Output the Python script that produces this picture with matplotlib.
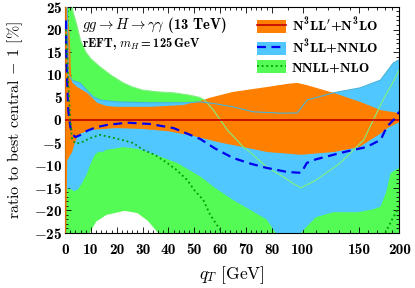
import numpy as np
import matplotlib
matplotlib.use('Agg')
import matplotlib.pyplot as plt
from matplotlib.patches import Patch
from matplotlib.lines import Line2D
from matplotlib.ticker import FixedLocator

plt.rcParams.update({
    'font.family': 'serif',
    'font.serif': ['cmb10'],
    'mathtext.fontset': 'custom',
    'mathtext.rm': 'cmb10',
    'mathtext.bf': 'cmb10',
    'mathtext.it': 'cmmi10',
    'mathtext.cal': 'cmsy10',
    'mathtext.fallback': 'cm',
    'axes.formatter.use_mathtext': True,
})

# --- band data (qT in GeV, ratio to best central - 1 in %) ---
# NNLL+NLO band
g_up_q = [0, 2.5, 3, 4.5, 6, 8, 10, 13.6, 18, 22.5, 26, 30, 36, 42, 48, 52, 54, 57.4, 62.8, 69, 72, 78, 87, 93, 98.8, 110, 131, 155, 166, 180, 190, 200]
g_up = [40, 26, 24, 21, 17.5, 15, 13.5, 11.7, 9.8, 8.2, 7.3, 6.6, 6.2, 6.0, 5.5, 5.0, 4.4, 2.2, -2.2, -6.0, -7.3, -10.4, -12.6, -14, -15, -13.3, -9.5, -4.4, 0, 5.1, 8, 11]
g_lo_q = [0, 8, 9.5, 12, 16, 23, 28, 32, 36, 40, 50, 200]
g_lo = [-40, -30, -25, -22.5, -21, -20.1, -20.6, -22.3, -25, -28, -32, -32]

# N3LL+NNLO band
b_up_q = [0, 0.8, 1.2, 2.7, 4, 5.8, 8, 10.9, 13.6, 20, 33, 45.7, 52.3, 58, 65, 72.9, 85, 96.1, 103.2, 124.6, 151, 174.7, 191.7, 200]
b_up = [40, 26, 10, 8.8, 8.5, 8.2, 6.8, 5.1, 4.4, 4.0, 3.8, 3.8, 4.0, 3.6, 2.9, 1.8, 1.5, 1.55, 4.4, 6.0, 7.1, 8.8, 12.6, 13.3]
b_lo_q = [0, 1.5, 2.7, 3.5, 5, 6.5, 8.5, 10, 11.5, 13, 14.5, 16, 22.5, 28, 33, 43.4, 52.3, 58, 65, 72, 78, 82, 84, 96, 100.6, 110, 124.6, 148, 165, 174.7, 182, 188, 200]
b_lo = [-16, -15, -15.5, -15.8, -15.3, -14, -11.8, -9.5, -7.7, -7.0, -7.1, -6.6, -6.0, -6.4, -7.3, -9.5, -12.5, -15, -17.7, -20, -22, -24.8, -26, -26, -24.3, -21.5, -20.4, -20.4, -19.8, -19.2, -16, -11.7, -10.6]

# N3LL'+N3LO band
o_up_q = [0, 0.5, 1.0, 1.8, 2.3, 2.7, 4.6, 8.5, 12.4, 16, 20, 33, 45.7, 52.3, 56, 65, 78.3, 90, 96, 103, 124.6, 151, 174.7, 200]
o_up = [40, 26, 24, 18, 10, 8.3, 7.3, 6.0, 3.8, 3.1, 2.9, 2.9, 3.3, 4.2, 4.9, 6.2, 7.3, 8.0, 8.2, 7.7, 6.0, 4.0, 2.2, 1.5]
o_lo_q = [0, 0.4, 0.8, 1.5, 2.7, 3.5, 4.5, 6, 10, 20, 30, 40, 50, 60, 69, 78.3, 98.8, 124.6, 150, 175, 185, 200]
o_lo = [-40, -25, -9, -8.2, -7.1, -5.5, -4, -3, -2.2, -1.8, -2, -2.5, -3.6, -5, -6.0, -7.1, -7.7, -7.1, -6.0, -3, -1.7, -0.5]

# central lines
dash_q = [0.3, 0.5, 1.2, 2.0, 2.7, 3.9, 6, 8.5, 12, 16.3, 24, 33, 42, 52.3, 58, 65, 72, 78, 89.4, 98.8, 103, 110, 124.6, 140, 158, 175, 183, 192, 200]
dash = [22, 13, 2.2, -1.5, -3, -3.8, -3.3, -2.4, -1.6, -1.1, -0.6, -0.9, -1.8, -4.2, -6.3, -8.4, -9.7, -10.6, -11.5, -11.7, -9.5, -8.7, -7.7, -6.8, -6.0, -4.4, -1.5, 0, 1.8]
dot_q = [0.3, 0.8, 1.2, 2, 2.7, 4, 5.8, 8, 9.7, 13.6, 17.4, 22, 26.4, 30.2, 35, 39.5, 43, 47.3, 50, 53.5, 56.2, 60, 62, 70, 170, 183, 190, 200]
dot = [20, 14, 8, 0, -4.4, -5.2, -5.1, -4.5, -4.0, -3.3, -3.8, -4.4, -5.1, -6.6, -7.8, -9.5, -11, -13.3, -15.5, -17.7, -21, -24.3, -26, -31, -29, -24.3, -22, -19.2]

labels = ["N$^3$LL$'$+N$^3$LO", "N$^3$LL+NNLO", "NNLL+NLO"]
xtick_vals = [0, 10, 20, 30, 40, 50, 60, 70, 80, 100, 150, 200]

C_OR = '#ff8000'
C_BL = '#50c8ff'
C_GR = '#55fb55'

# qT axis: linear up to 80 GeV, logarithmic above
Q0, A = 80.0, 53.9


def fwd(q):
    q = np.asarray(q, float)
    return np.where(q <= Q0, q, Q0 + A * np.log(np.maximum(q, 1e-6) / Q0))


def inv(x):
    x = np.asarray(x, float)
    return np.where(x <= Q0, x, Q0 * np.exp((x - Q0) / A))


def band(qu, yu, ql, yl):
    xs = np.concatenate([qu, ql[::-1]])
    ys = np.concatenate([yu, yl[::-1]])
    return xs, ys


fig = plt.figure(figsize=(4.15, 2.88), dpi=100)
ax = fig.add_axes([0.157, 0.191, 0.805, 0.785])
ax.set_xscale('function', functions=(fwd, inv))

ax.fill(*band(g_up_q, g_up, g_lo_q, g_lo), color=C_GR, lw=0, zorder=1)
ax.fill(*band(b_up_q, b_up, b_lo_q, b_lo), color=C_BL, lw=0, zorder=2)
ax.fill(*band(o_up_q, o_up, o_lo_q, o_lo), color=C_OR, lw=0, zorder=3)
# band edges drawn over everything
ax.plot(g_up_q, g_up, color='#80f080', lw=0.8, zorder=4)
ax.plot(b_up_q, b_up, color='#48b4dc', lw=0.8, zorder=4)

ax.plot([0, 200], [0, 0], color='#c00000', lw=1.2, zorder=5)
ax.plot(dash_q, dash, color='#0000ee', lw=1.6, dashes=(4, 2.5), zorder=6)
ax.plot(dot_q, dot, color='#009900', lw=1.3, ls=(0, (1, 1.6)), zorder=6)

ax.set_xlim(0, 200)
ax.set_ylim(-25, 25)
ax.xaxis.set_major_locator(FixedLocator(xtick_vals))
ax.set_xticklabels([str(v) for v in xtick_vals])
ax.xaxis.set_minor_locator(FixedLocator(list(range(0, 80, 2)) + list(range(80, 201, 10))))
ax.set_yticks(range(-25, 26, 5))
ax.set_yticklabels(['$%d$' % v for v in range(-25, 26, 5)])
ax.yaxis.set_minor_locator(FixedLocator(range(-25, 26)))
ax.tick_params(which='both', direction='in', top=True, right=True, width=0.6, labelsize=11)
ax.tick_params(which='major', length=4.5)
ax.tick_params(which='minor', length=2.5)
ax.tick_params(axis='x', pad=7)
ax.tick_params(axis='y', pad=2)
for s in ax.spines.values():
    s.set_linewidth(0.8)

ax.text(0.051, 0.918, r'$gg \to H \to \gamma\gamma$ (13 TeV)', transform=ax.transAxes,
        fontsize=10.5, va='center', ha='left', zorder=10)
ax.text(0.051, 0.835, r'rEFT, $m_H = 125\,$GeV', transform=ax.transAxes,
        fontsize=9, va='center', ha='left', zorder=10)

handles = [
    (Patch(fc=C_OR, lw=0), Line2D([], [], color='#c00000', lw=1.2)),
    (Patch(fc=C_BL, lw=0), Line2D([], [], color='#0000ee', lw=1.6, dashes=(4, 2.5))),
    (Patch(fc=C_GR, lw=0), Line2D([], [], color='#009900', lw=1.3, ls=(0, (1, 1.6)))),
]
leg = ax.legend(handles, labels, loc='upper left', bbox_to_anchor=(0.575, 0.96),
                frameon=False, fontsize=10, handlelength=2.1, handleheight=1.05,
                handletextpad=0.4, labelspacing=0.2, borderpad=0, borderaxespad=0)
leg.set_zorder(10)

fig.text(232 / 415, 1 - 275 / 288, r'$q_T$ [GeV]', family='cmr10', fontsize=12.5,
         ha='center', va='center')
fig.text(15 / 415, 1 - 120 / 288, r'ratio to best central $-$ 1 [%]', family='cmr10',
         fontsize=11.5, rotation=90, ha='center', va='center')

fig.savefig('out.png', dpi=100)
